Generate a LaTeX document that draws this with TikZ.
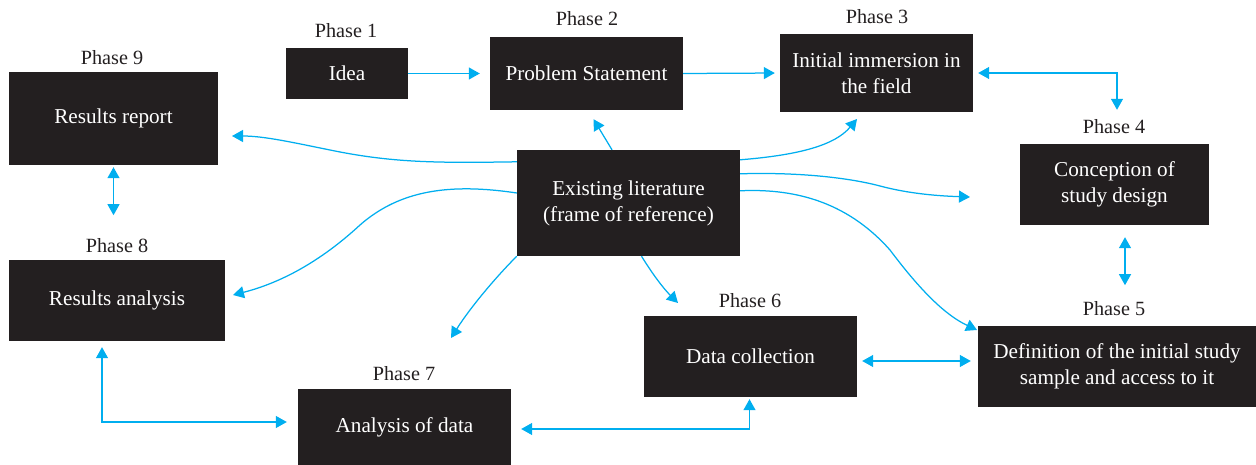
\documentclass[tikz,border=0pt]{standalone}
\usepackage{fontspec}
\setmainfont{Liberation Serif}
\usetikzlibrary{arrows.meta}
\definecolor{boxc}{HTML}{231F20}
\definecolor{cy}{HTML}{00AEEF}
\begin{document}
\begin{tikzpicture}[x=1pt,y=-1pt,
  box/.style={fill=boxc,text=white,inner sep=0pt,align=center,font=\fontsize{21.2}{26}\selectfont},
  lab/.style={anchor=base,text=boxc,inner sep=0pt,font=\fontsize{20.2}{24}\selectfont},
  con/.style={draw=cy,line width=1.25pt,-{Triangle[length=11pt,width=12pt]}},
  dcon/.style={draw=cy,line width=1.25pt,{Triangle[length=11pt,width=12pt]}-{Triangle[length=11pt,width=12pt]}}]
\useasboundingbox (0,0) rectangle (1256,465);
% boxes
\node[box,minimum width=209pt,minimum height=93pt] (p9) at (113.5,118.5) {Results report};
\node[box,minimum width=122pt,minimum height=51pt] (p1) at (347,73.5) {Idea};
\node[box,minimum width=193pt,minimum height=73pt] (p2) at (586.5,73.5) {Problem Statement};
\node[box,minimum width=193pt,minimum height=78pt] (p3) at (876.5,73) {Initial immersion in\\the field};
\node[box,minimum width=189pt,minimum height=81pt] (p4) at (1114.5,184.5) {Conception of\\study design};
\node[box,minimum width=278pt,minimum height=81pt] (p5) at (1117,366.5) {Definition of the initial study\\sample and access to it};
\node[box,minimum width=213pt,minimum height=81pt] (p6) at (750.5,356.5) {Data collection};
\node[box,minimum width=213pt,minimum height=76pt] (p7) at (404.5,427) {Analysis of data};
\node[box,minimum width=216pt,minimum height=81pt] (p8) at (117,300.5) {Results analysis};
\node[box,minimum width=223pt,minimum height=106pt] (lit) at (628.5,203) {Existing literature\\(frame of reference)};
% phase labels
\node[lab] (l1) at (346,38) {Phase 1};
\node[lab] (l2) at (587,26) {Phase 2};
\node[lab] (l3) at (877,24) {Phase 3};
\node[lab] (l4) at (1114,134) {Phase 4};
\node[lab] (l5) at (1114,316) {Phase 5};
\node[lab] (l6) at (750,307) {Phase 6};
\node[lab] (l7) at (404,380) {Phase 7};
\node[lab] (l8) at (117,253) {Phase 8};
\node[lab] (l9) at (112,65) {Phase 9};
% free ends
\coordinate (t9) at (232,136);
\coordinate (t8) at (233,295);
\coordinate (t3) at (857,119);
\coordinate (t4) at (970,197);
\coordinate (t5) at (977,330);
\coordinate (t6) at (678,303);
\coordinate (t7) at (451,338);
% straight connectors
\draw[con,shorten >=10pt] (p1.east) -- (p2.west);
\draw[con,shorten >=5pt] (p2.east) -- (p3.west);
\draw[dcon,shorten <=5pt] (p3.east) -| ([xshift=2.5pt,yshift=34pt]p4.north);
\draw[dcon] ([yshift=-2pt]p9.south) -- ([yshift=-50pt]p9.south);
\draw[dcon] ([xshift=10.5pt,yshift=-12pt]p4.south) -- ([xshift=10.5pt,yshift=-60pt]p4.south);
\draw[dcon] ([xshift=-15pt,yshift=-6pt]p8.south) |- ([xshift=-11pt,yshift=5pt]p7.west);
\draw[dcon] ([xshift=10pt,yshift=-2pt]p7.east) -| ([xshift=-1pt,yshift=-2pt]p6.south);
\draw[dcon] ([xshift=5pt,yshift=-4.5pt]p6.east) -- ([xshift=-7pt,yshift=5.5pt]p5.west);
\draw[con] ([xshift=-16.5pt]lit.north) -- ([xshift=7pt,yshift=-9pt]p2.south);
% curved connectors from literature
\draw[con] ([yshift=-12pt]lit.north west) .. controls (440,163) and (395,163) .. (335,151) .. controls (295,143) and (265,136) .. (t9);
\draw[con] ([yshift=10pt]lit.west) .. controls (450,183) and (400,190) .. (360,225) .. controls (320,262) and (280,283) .. (t8);
\draw[con] ([yshift=-10pt]lit.north east) .. controls (800,155) and (835,145) .. (t3);
\draw[con] ([yshift=-24pt]lit.north east) .. controls (800,172) and (850,178) .. (880,186) .. controls (910,194) and (940,196) .. (t4);
\draw[con] ([yshift=-41pt]lit.north east) .. controls (800,188) and (850,205) .. (890,250) .. controls (920,290) and (945,315) .. (t5);
\draw[con] ([xshift=13pt]lit.south) .. controls (655,278) and (665,290) .. (t6);
\draw[con] (lit.south west) .. controls (495,278) and (470,308) .. (t7);
\end{tikzpicture}
\end{document}
